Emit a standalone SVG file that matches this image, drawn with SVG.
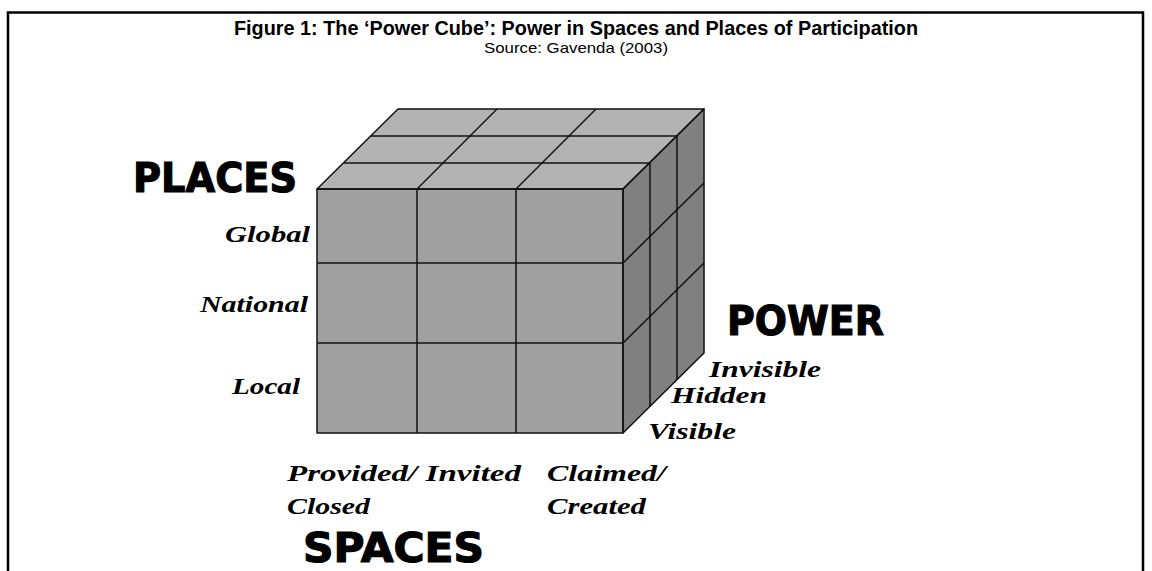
<svg xmlns="http://www.w3.org/2000/svg" width="1152" height="571" viewBox="0 0 1152 571">
<style>
.frame{stroke:#000;stroke-width:2.5;fill:none}
.ln{stroke:#111;stroke-width:1.5;fill:none;stroke-linejoin:round}
.front{fill:#a0a0a0}
.top{fill:#b3b3b3}
.side{fill:#808080}
.title{font-family:"Liberation Sans Narrow","Liberation Sans",Arial,sans-serif;font-weight:bold;font-size:20px;fill:#000}
.src{font-family:"Liberation Sans Narrow","Liberation Sans",Arial,sans-serif;font-size:14.5px;fill:#000}
.big{font-family:"DejaVu Sans","Liberation Sans",sans-serif;font-weight:bold;font-size:41px;fill:#000;stroke:#000;stroke-width:1.2}
.it{font-family:"Liberation Serif","Times New Roman",serif;font-weight:bold;font-style:italic;font-size:23px;fill:#000}
</style>
<rect width="1152" height="571" fill="#fff"/>
<g id="frame">
<path class="frame" d="M8 571 V12.5 H1143 V571"/>
</g>
<g id="title">
<text class="title" x="234" y="35" textLength="684" lengthAdjust="spacingAndGlyphs">Figure 1: The ‘Power Cube’: Power in Spaces and Places of Participation</text>
<text class="src" x="484" y="53" textLength="184" lengthAdjust="spacingAndGlyphs">Source: Gavenda (2003)</text>
</g>
<g id="cube">
<polygon class="front" points="317,189 623,189 623,433 317,433"/>
<polygon class="top" points="317,189 623,189 704,109 398,109"/>
<polygon class="side" points="623,189 704,109 704,353 623,433"/>
<g class="ln">
<polygon points="317,189 623,189 623,433 317,433"/>
<polygon points="317,189 623,189 704,109 398,109"/>
<polygon points="623,189 704,109 704,353 623,433"/>
<line x1="417" y1="189" x2="417" y2="433"/>
<line x1="516" y1="189" x2="516" y2="433"/>
<line x1="317" y1="263" x2="623" y2="263"/>
<line x1="317" y1="343" x2="623" y2="343"/>
<line x1="344" y1="163" x2="650" y2="163"/>
<line x1="371" y1="136" x2="677" y2="136"/>
<line x1="417" y1="189" x2="497" y2="109"/>
<line x1="516" y1="189" x2="596" y2="109"/>
<line x1="650" y1="163" x2="650" y2="407"/>
<line x1="677" y1="136" x2="677" y2="380"/>
<line x1="623" y1="263" x2="704" y2="183"/>
<line x1="623" y1="343" x2="704" y2="263"/>
</g>
</g>
<g id="places">
<text class="big" x="133" y="192" textLength="164" lengthAdjust="spacingAndGlyphs">PLACES</text>
<text class="it" x="225" y="242" textLength="85" lengthAdjust="spacingAndGlyphs">Global</text>
<text class="it" x="200" y="312" textLength="108" lengthAdjust="spacingAndGlyphs">National</text>
<text class="it" x="232" y="394" textLength="68" lengthAdjust="spacingAndGlyphs">Local</text>
</g>
<g id="power">
<text class="big" x="727" y="335" textLength="157" lengthAdjust="spacingAndGlyphs">POWER</text>
<text class="it" x="709" y="377" textLength="112" lengthAdjust="spacingAndGlyphs">Invisible</text>
<text class="it" x="671" y="403" textLength="96" lengthAdjust="spacingAndGlyphs">Hidden</text>
<text class="it" x="648" y="439" textLength="88" lengthAdjust="spacingAndGlyphs">Visible</text>
</g>
<g id="spaces">
<text class="it" x="287" y="481" textLength="234" lengthAdjust="spacingAndGlyphs">Provided/ Invited</text>
<text class="it" x="547" y="481" textLength="119" lengthAdjust="spacingAndGlyphs">Claimed/</text>
<text class="it" x="287" y="514" textLength="83" lengthAdjust="spacingAndGlyphs">Closed</text>
<text class="it" x="547" y="514" textLength="99" lengthAdjust="spacingAndGlyphs">Created</text>
<text class="big" x="303" y="562" textLength="181" lengthAdjust="spacingAndGlyphs">SPACES</text>
</g>
</svg>
